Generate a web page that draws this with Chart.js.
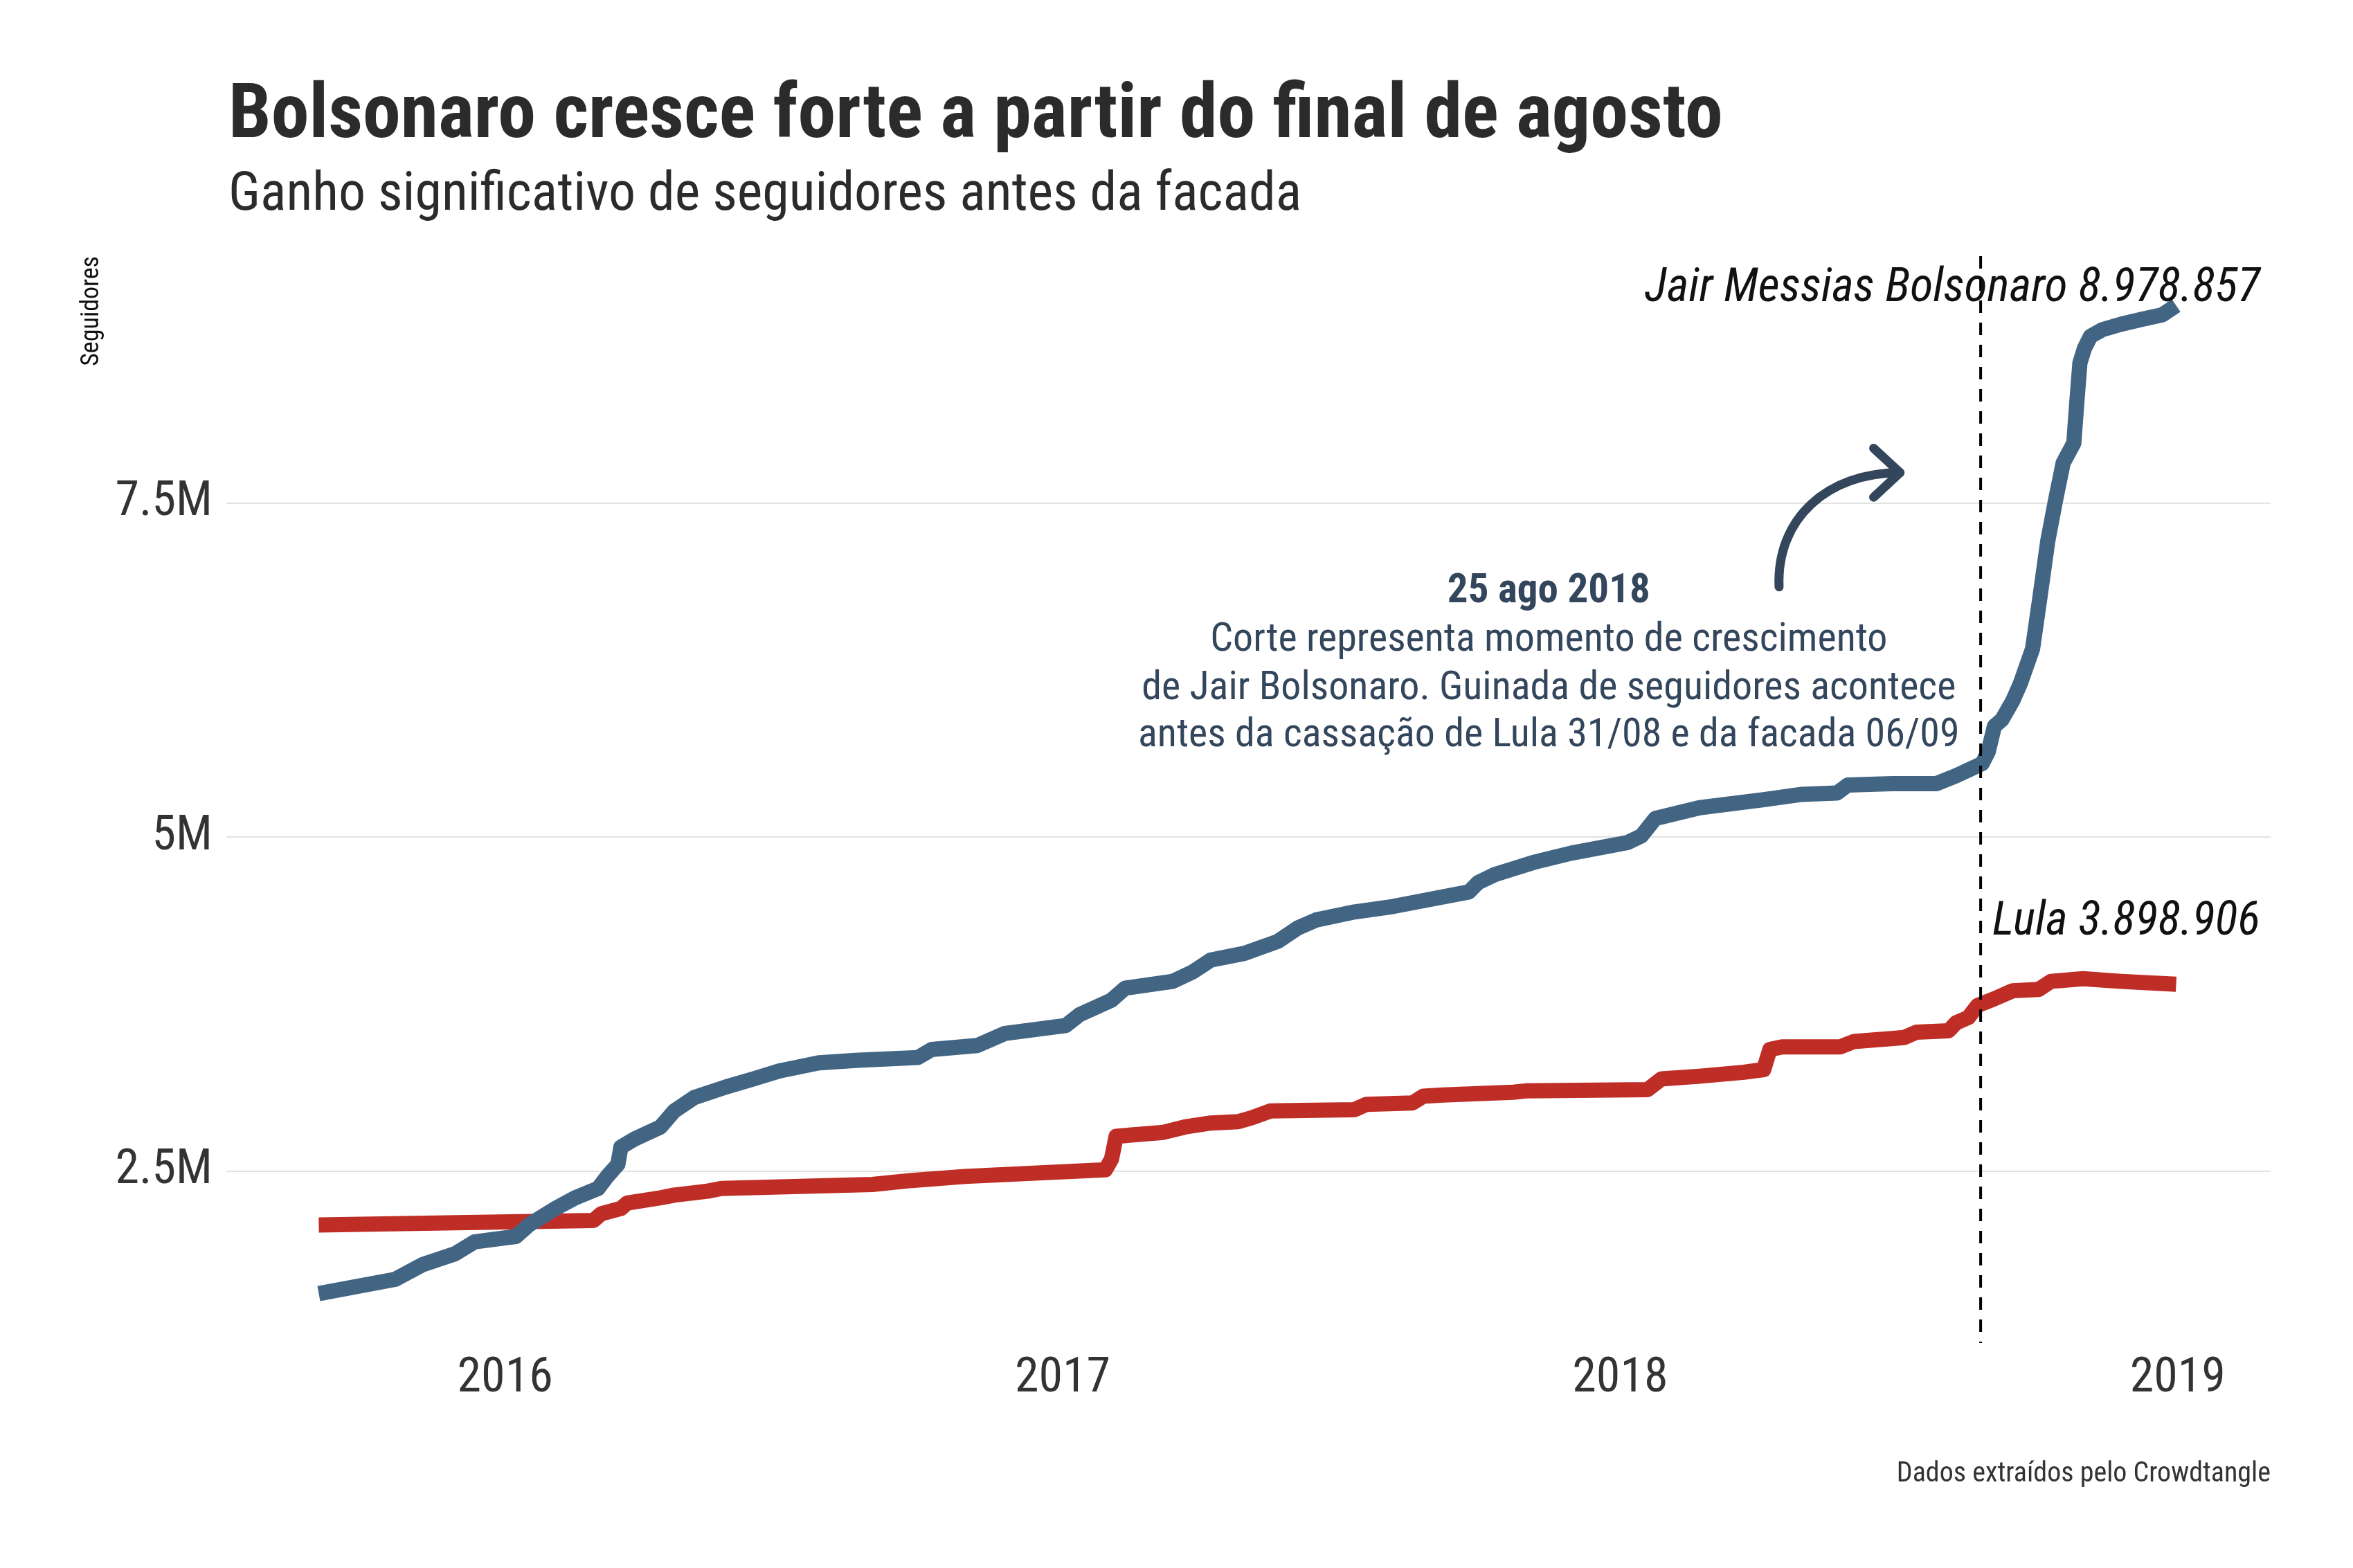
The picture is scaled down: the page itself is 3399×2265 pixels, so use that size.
<!DOCTYPE html>
<html><head><meta charset="utf-8">
<script src="https://cdn.jsdelivr.net/npm/chart.js@4.4.1/dist/chart.umd.min.js"></script>
<style>html,body{margin:0;padding:0;background:#fff;}#wrap{width:3399px;height:2265px;position:relative;}canvas{display:block;}</style>
</head><body><div id="wrap"><canvas id="c" width="3399" height="2265"></canvas></div>
<script>
const bolsonaroDates = ['2015-09-01','2015-10-21','2015-11-08','2015-11-29','2015-12-12','2016-01-08','2016-01-17','2016-02-03','2016-02-16','2016-03-02','2016-03-08','2016-03-15','2016-03-17','2016-03-26','2016-04-12','2016-04-21','2016-05-04','2016-05-25','2016-06-12','2016-06-29','2016-07-25','2016-08-20','2016-09-28','2016-10-07','2016-11-06','2016-11-24','2017-01-03','2017-01-12','2017-02-02','2017-02-11','2017-03-14','2017-03-27','2017-04-08','2017-04-30','2017-05-22','2017-06-04','2017-06-16','2017-07-11','2017-08-05','2017-09-24','2017-09-30','2017-10-11','2017-11-05','2017-11-30','2018-01-06','2018-01-15','2018-01-24','2018-02-22','2018-04-05','2018-04-30','2018-05-23','2018-05-30','2018-06-28','2018-07-27','2018-08-09','2018-08-26','2018-08-30','2018-09-03','2018-09-08','2018-09-15','2018-09-20','2018-09-28','2018-10-03','2018-10-08','2018-10-13','2018-10-18','2018-10-25','2018-10-27','2018-10-29','2018-11-01','2018-11-05','2018-11-13','2018-11-25','2018-12-10','2018-12-22','2018-12-31'];
const bolsonaroValues = [1583000,1690000,1800000,1880000,1970000,2010000,2100000,2220000,2300000,2370000,2460000,2550000,2680000,2740000,2830000,2950000,3050000,3130000,3190000,3250000,3310000,3330000,3350000,3410000,3440000,3530000,3590000,3670000,3780000,3870000,3920000,3990000,4080000,4130000,4220000,4320000,4380000,4440000,4480000,4590000,4660000,4720000,4810000,4880000,4960000,5010000,5140000,5220000,5280000,5320000,5330000,5390000,5400000,5400000,5460000,5550000,5640000,5830000,5880000,6020000,6150000,6410000,6810000,7220000,7520000,7800000,7950000,8260000,8550000,8660000,8750000,8800000,8840000,8880000,8910000,8978857];

const lulaDates = ['2015-09-01','2016-02-28','2016-03-04','2016-03-17','2016-03-21','2016-04-12','2016-04-21','2016-05-13','2016-05-22','2016-08-29','2016-09-24','2016-10-29','2017-01-29','2017-02-02','2017-02-05','2017-02-15','2017-03-08','2017-03-22','2017-04-08','2017-04-26','2017-05-05','2017-05-17','2017-06-16','2017-07-11','2017-07-19','2017-08-18','2017-08-25','2017-09-07','2017-10-23','2017-10-31','2018-01-19','2018-01-28','2018-02-22','2018-03-23','2018-04-05','2018-04-09','2018-04-17','2018-05-25','2018-06-03','2018-07-06','2018-07-14','2018-08-04','2018-08-09','2018-08-17','2018-08-23','2018-09-03','2018-09-15','2018-10-02','2018-10-10','2018-10-31','2018-11-25','2018-12-31'];
const lulaValues = [2096000,2130000,2180000,2220000,2260000,2300000,2320000,2350000,2370000,2400000,2430000,2460000,2510000,2590000,2760000,2770000,2790000,2830000,2860000,2870000,2900000,2950000,2956000,2960000,3000000,3010000,3060000,3070000,3090000,3100000,3110000,3190000,3210000,3240000,3260000,3410000,3430000,3430000,3470000,3500000,3540000,3550000,3610000,3650000,3740000,3790000,3850000,3860000,3920000,3940000,3920000,3898906];

const xTickValues = [2016, 2017, 2018, 2019];
const xTickLabels = ['2016', '2017', '2018', '2019'];
const yTickValues = [2500000, 5000000, 7500000];
const yTickLabels = ['2.5M', '5M', '7.5M'];
const eventDate = '2018-08-25';

const FONT = '"Roboto Condensed", "Liberation Sans Narrow", "Roboto", sans-serif';

function decYear(s) {
  const p = s.split('-').map(Number);
  const a = Date.UTC(p[0], 0, 1), b = Date.UTC(p[0] + 1, 0, 1);
  return p[0] + (Date.UTC(p[0], p[1] - 1, p[2]) - a) / (b - a);
}

const decor = {
  id: 'decor',
  afterDatasetsDraw(chart) {
    const ctx = chart.ctx, xs = chart.scales.x, ca = chart.chartArea;
    const vx = xs.getPixelForValue(decYear(eventDate));
    ctx.save();
    ctx.strokeStyle = '#000';
    ctx.lineWidth = 4;
    ctx.setLineDash([18, 14]);
    ctx.beginPath(); ctx.moveTo(vx, ca.top); ctx.lineTo(vx, ca.bottom); ctx.stroke();
    ctx.restore();
  },
  afterDraw(chart) {
    const ctx = chart.ctx, xs = chart.scales.x, ys = chart.scales.y, ca = chart.chartArea;
    ctx.save();
    // Title
    ctx.fillStyle = '#2b2b2b';
    ctx.textAlign = 'left'; ctx.textBaseline = 'alphabetic';
    ctx.font = 'bold 110px ' + FONT;
    ctx.fillText('Bolsonaro cresce forte a partir do final de agosto', 330, 198);
    ctx.font = '78px ' + FONT;
    ctx.fillText('Ganho significativo de seguidores antes da facada', 330, 303);
    // caption
    ctx.fillStyle = '#333';
    ctx.textAlign = 'right';
    ctx.font = '40px ' + FONT;
    ctx.fillText('Dados extraídos pelo Crowdtangle', ca.right, 2140);
    // y axis title
    ctx.save();
    ctx.translate(133, ca.top);
    ctx.rotate(-Math.PI / 2);
    ctx.textAlign = 'right'; ctx.textBaseline = 'middle';
    ctx.fillStyle = '#111';
    ctx.font = '36px ' + FONT;
    ctx.fillText('Seguidores', 0, 0);
    ctx.restore();
    // series end labels
    ctx.fillStyle = '#111';
    ctx.textAlign = 'right';
    ctx.font = 'italic 68px ' + FONT;
    const lx = xs.getPixelForValue(2019.148);
    ctx.fillText('Jair Messias Bolsonaro 8.978.857', lx, ys.getPixelForValue(9013000));
    ctx.fillText('Lula 3.898.906', lx, ys.getPixelForValue(4272000));
    // annotation text
    const ax = xs.getPixelForValue(2017.872);
    const ay = ys.getPixelForValue(6759000);
    ctx.fillStyle = '#33465c';
    ctx.textAlign = 'center';
    ctx.font = 'bold 59px ' + FONT;
    ctx.fillText('25 ago 2018', ax, ay);
    ctx.font = '58px ' + FONT;
    ctx.fillText('Corte representa momento de crescimento', ax, ay + 70);
    ctx.fillText('de Jair Bolsonaro. Guinada de seguidores acontece', ax, ay + 140);
    ctx.fillText('antes da cassação de Lula 31/08 e da facada 06/09', ax, ay + 208);
    // arrow
    const sx = xs.getPixelForValue(2018.285), sy = ys.getPixelForValue(6873000);
    const ex = xs.getPixelForValue(2018.502), ey = ys.getPixelForValue(7728000);
    const c1x = sx - 4, c1y = sy - (sy - ey) * 0.6;
    const c2x = ex - (ex - sx) * 0.6, c2y = ey;
    ctx.strokeStyle = '#33465c';
    ctx.lineWidth = 13; ctx.lineCap = 'round'; ctx.lineJoin = 'round';
    ctx.beginPath(); ctx.moveTo(sx, sy); ctx.bezierCurveTo(c1x, c1y, c2x, c2y, ex, ey); ctx.stroke();
    const ang = Math.atan2(ey - c2y, ex - c2x);
    const L = 52, spread = Math.PI / 4.2;
    ctx.beginPath();
    ctx.moveTo(ex - L * Math.cos(ang - spread), ey - L * Math.sin(ang - spread));
    ctx.lineTo(ex, ey);
    ctx.lineTo(ex - L * Math.cos(ang + spread), ey - L * Math.sin(ang + spread));
    ctx.stroke();
    ctx.restore();
  }
};

const chart = new Chart(document.getElementById('c'), {
  type: 'line',
  data: {
    datasets: [
      {
        label: 'Jair Messias Bolsonaro',
        data: bolsonaroDates.map((d, i) => ({ x: decYear(d), y: bolsonaroValues[i] })),
        borderColor: '#436584', borderWidth: 22, pointRadius: 0, tension: 0,
        borderCapStyle: 'butt', borderJoinStyle: 'round', fill: false
      },
      {
        label: 'Lula',
        data: lulaDates.map((d, i) => ({ x: decYear(d), y: lulaValues[i] })),
        borderColor: '#bf2e26', borderWidth: 22, pointRadius: 0, tension: 0,
        borderCapStyle: 'butt', borderJoinStyle: 'round', fill: false
      }
    ]
  },
  options: {
    responsive: false, animation: false, devicePixelRatio: 1,
    layout: { padding: { top: 370, right: 119, bottom: 0, left: 0 } },
    plugins: { legend: { display: false }, tooltip: { enabled: false } },
    scales: {
      x: {
        type: 'linear', min: 2015.5, max: 2019.1667,
        grid: { display: false, drawTicks: false }, border: { display: false },
        afterBuildTicks: (s) => { s.ticks = xTickValues.map(v => ({ value: v })); },
        afterFit: (s) => { s.height = 325; },
        ticks: {
          padding: 10, color: '#333', font: { family: FONT, size: 70 },
          maxRotation: 0, autoSkip: false,
          callback: (v) => { const i = xTickValues.indexOf(v); return i >= 0 ? xTickLabels[i] : ''; }
        }
      },
      y: {
        type: 'linear', min: 1213000, max: 9349000,
        grid: { color: '#e2e2e2', lineWidth: 2, drawTicks: false }, border: { display: false },
        afterBuildTicks: (s) => { s.ticks = yTickValues.map(v => ({ value: v })); },
        afterFit: (s) => { s.width = 327; },
        ticks: {
          padding: 20, color: '#333', font: { family: FONT, size: 70 },
          callback: (v) => { const i = yTickValues.indexOf(v); return i >= 0 ? yTickLabels[i] : ''; }
        }
      }
    }
  },
  plugins: [decor]
});
</script></body></html>
